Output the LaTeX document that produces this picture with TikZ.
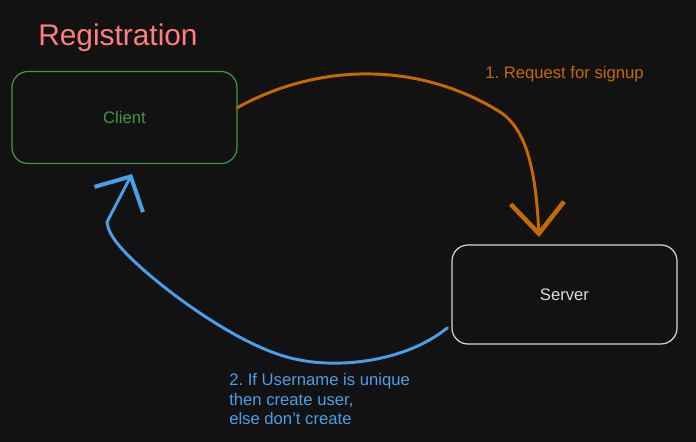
\documentclass[tikz,border=0pt]{standalone}
\usepackage{fontspec}
\setmainfont{Liberation Sans}
\usepackage{xcolor}
\usetikzlibrary{arrows.meta, calc}

\definecolor{bgdark}{HTML}{121212}
\definecolor{titlered}{HTML}{FF7D7D}
\definecolor{clientgreen}{HTML}{3A9A4A}
\definecolor{servergray}{HTML}{D6D6D6}
\definecolor{reqorange}{HTML}{C46A00}
\definecolor{replyblue}{HTML}{4A9FEA}

\frenchspacing

\begin{document}
\begin{tikzpicture}[x=0.75pt, y=-0.75pt]
  \tikzset{box/.style={rectangle, rounded corners=12pt, line width=0.9pt, minimum width=168.75pt, font=\fontsize{12.5}{15}\selectfont},
           note/.style={font=\fontsize{12.5}{14.6}\selectfont, align=left, inner sep=0pt},
           flow/.style={line width=2.2pt, line cap=round, line join=round}}

  % Background
  \fill[bgdark] (0,0) rectangle (696,442);
  \useasboundingbox (0,0) rectangle (696,442);

  % Title
  \node[anchor=base west, inner sep=0pt, text=titlered, font=\fontsize{22.4}{26}\selectfont] (title) at (38,46) {Registration};

  % Boxes
  \node[box, draw=clientgreen, text=clientgreen, minimum height=69pt] (client) at (124.5,117.5) {Client};
  \node[box, draw=servergray, text=servergray!90, minimum height=74.25pt] (server) at (564.5,294.5) {Server};

  % Request
  \coordinate (reqtip) at (539,237);
  \draw[flow, reqorange, -{Straight Barb[length=23pt, width=40pt, line width=3.4pt]}]
    ([yshift=7.5pt]client.east) .. controls (320,62) and (420,62) .. (500,112)
    .. controls (528,130) and (536,175) .. (reqtip);
  \node[note, anchor=west, text=reqorange] (reqlabel) at (485,74) {1. Request for signup};

  % Reply
  \coordinate (replytip) at (132,174);
  \draw[flow, replyblue, -{Straight Barb[length=19.5pt, width=41pt, line width=3pt]}]
    ([xshift=-3pt, yshift=-25pt]server.west) .. controls (405,362) and (340,368) .. (300,360)
    .. controls (240,350) and (150,280) .. (123,250)
    .. controls (112,238) and (108,230) .. (107,222) -- (replytip);
  \node[note, anchor=north west, text=replyblue] (replylabel) at (229,373.5) {2. If Username is unique\\then create user,\\else don{\char"0027}t create};
\end{tikzpicture}
\end{document}
